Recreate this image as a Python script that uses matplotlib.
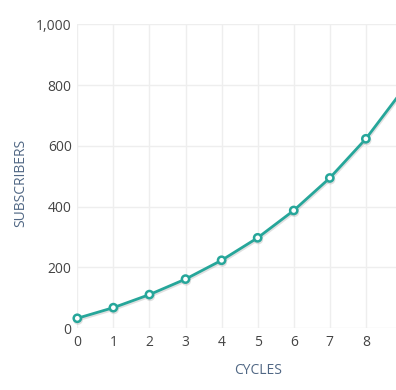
import matplotlib
matplotlib.use('Agg')
import matplotlib.pyplot as plt
import matplotlib.patheffects as pe

plt.rcParams['font.family'] = ['Open Sans', 'DejaVu Sans']

cycles = [0, 1, 2, 3, 4, 5, 6, 7, 8, 9]
subscribers = [32, 67, 110, 161, 223, 297, 387, 494, 623, 780]
x_ticks = [0, 1, 2, 3, 4, 5, 6, 7, 8]
y_ticks = [0, 200, 400, 600, 800, 1000]
y_tick_labels = ['0', '200', '400', '600', '800', '1,000']

teal = '#26a69a'

fig = plt.figure(figsize=(3.96, 3.9), dpi=100)
# plot area is wider than the picture, right part is cut off
ax = fig.add_axes([77.3 / 396, 1 - 328 / 390, (438 - 77.3) / 396, (328 - 24.3) / 390])

ax.plot(cycles, subscribers, color=teal, lw=2, marker='o', ms=5.2,
        mfc='white', mec=teal, mew=1.8, zorder=3, clip_on=False,
        path_effects=[pe.SimpleLineShadow(offset=(0.5, -1.2), shadow_color='#999999', alpha=0.3),
                      pe.Normal()])

ax.set_xlim(0, 10)
ax.set_ylim(0, 1000)
ax.set_xticks(x_ticks)
ax.set_yticks(y_ticks)
ax.set_yticklabels(y_tick_labels)

for s in ax.spines.values():
    s.set_visible(False)
ax.grid(True, color='#eeeeee', lw=1)
ax.set_axisbelow(True)
ax.tick_params(length=0, labelsize=10, labelcolor='#444444')
ax.tick_params(axis='y', pad=4)
ax.tick_params(axis='x', pad=5)

ax.set_xlabel('CYCLES', fontsize=10, color='#506784')
ax.set_ylabel('SUBSCRIBERS', fontsize=10, color='#506784')
ax.xaxis.set_label_coords(0.5, -(363 - 328) / 304)
ax.yaxis.set_label_coords(-(77.3 - 28) / 360.7, (328 - 182.5) / 304)

fig.savefig('out.png', dpi=100)
